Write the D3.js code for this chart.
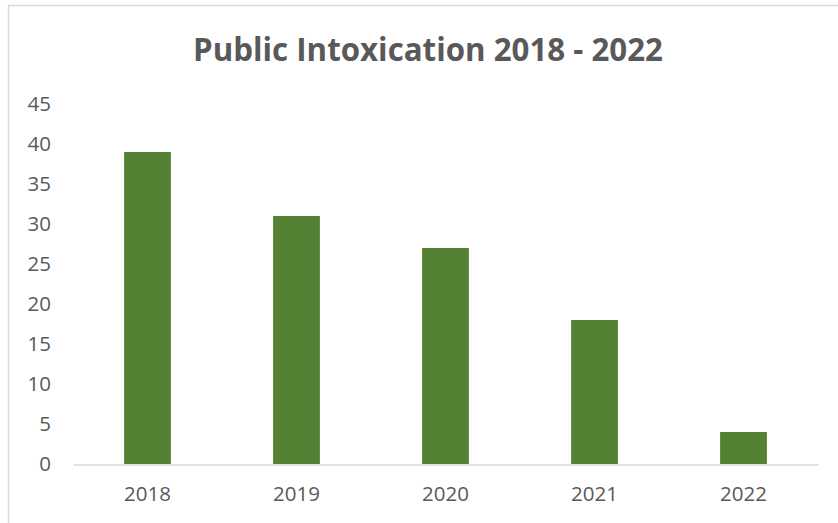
<!DOCTYPE html>
<html>
<head>
<meta charset="utf-8">
<script src="https://cdn.jsdelivr.net/npm/d3@7/dist/d3.min.js"></script>
<style>
  html, body { margin: 0; padding: 0; background: #ffffff; }
  svg { display: block; }
</style>
</head>
<body>
<svg id="chart" width="838" height="523"></svg>
<script>
// Public intoxication counts by year
const years = ["2018", "2019", "2020", "2021", "2022"];
const counts = [39, 31, 27, 18, 4];
const yTicks = [0, 5, 10, 15, 20, 25, 30, 35, 40, 45];
const titleText = "Public Intoxication 2018 - 2022";

const W = 838, H = 523;
const textColor = "#595959";
const lineColor = "#d9d9d9";
const barColor = "#548235";
const font = "'Open Sans', 'Liberation Sans', sans-serif";

const svg = d3.select("#chart");

// chart frame (top and left edges visible)
svg.append("path")
  .attr("d", `M8.5,${H} L8.5,5.5 L${W},5.5`)
  .attr("fill", "none")
  .attr("stroke", lineColor)
  .attr("stroke-width", 1.5);

const x = d3.scaleBand()
  .domain(years)
  .range([73, 818])
  .paddingInner(0.686)
  .paddingOuter(0.343);

const y = d3.scaleLinear()
  .domain([0, 45])
  .range([464, 104]);

// title, sized to its box width
const title = svg.append("text")
  .attr("x", 428)
  .attr("y", 61)
  .attr("text-anchor", "middle")
  .attr("font-family", font)
  .attr("font-weight", 700)
  .attr("font-size", 30)
  .attr("fill", textColor)
  .text(titleText);
const tw = title.node().getComputedTextLength();
if (tw > 0) title.attr("font-size", 30 * 470 / tw);

// bars
svg.append("g")
  .selectAll("rect")
  .data(counts)
  .join("rect")
  .attr("x", (d, i) => x(years[i]))
  .attr("y", d => y(d))
  .attr("width", x.bandwidth())
  .attr("height", d => y(0) - y(d))
  .attr("fill", barColor);

// y axis labels
const yAxis = svg.append("g")
  .attr("transform", "translate(51,0)")
  .call(d3.axisLeft(y).tickValues(yTicks).tickSize(0).tickPadding(0));
yAxis.select(".domain").remove();
yAxis.selectAll("text")
  .attr("font-family", font)
  .attr("font-size", 20.5)
  .attr("fill", textColor);

// x axis line and labels
const xAxis = svg.append("g")
  .attr("transform", `translate(0,${y(0) + 0.5})`)
  .call(d3.axisBottom(x).tickSize(0).tickSizeOuter(0).tickPadding(22));
xAxis.select(".domain")
  .attr("stroke", lineColor)
  .attr("stroke-width", 1.5);
xAxis.selectAll("text")
  .attr("font-family", font)
  .attr("font-size", 20.5)
  .attr("fill", textColor);
</script>
</body>
</html>
